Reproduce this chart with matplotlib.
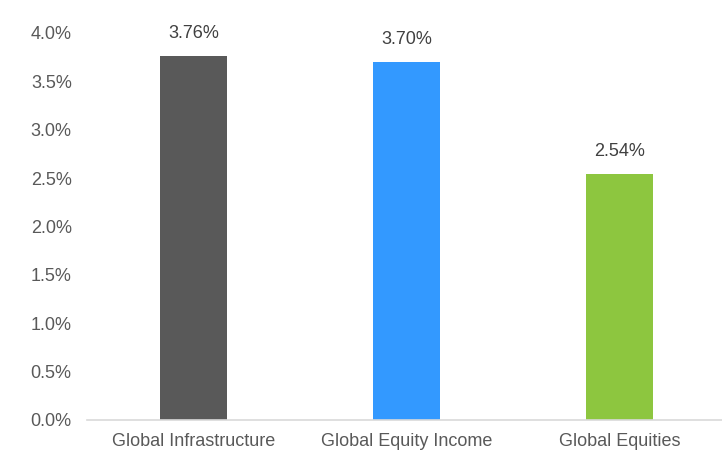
import matplotlib
matplotlib.use("Agg")
import matplotlib.pyplot as plt
from matplotlib.ticker import FuncFormatter

plt.rcParams['font.family'] = ['Liberation Sans', 'DejaVu Sans']

categories = ["Global Infrastructure", "Global Equity Income", "Global Equities"]
values = [3.76, 3.70, 2.54]
colors = ["#595959", "#3399FF", "#8DC63F"]
yticks = [0.0, 0.5, 1.0, 1.5, 2.0, 2.5, 3.0, 3.5, 4.0]

fig = plt.figure(figsize=(7.22, 4.53), dpi=100)
ax = fig.add_axes([87 / 722, 1 - 420 / 453, 639 / 722, 387 / 453])

x = range(len(categories))
bars = ax.bar(x, values, width=0.315, color=colors)

for b, v in zip(bars, values):
    ax.annotate(f"{v:.2f}%", (b.get_x() + b.get_width() / 2, v),
                xytext=(0, 10), textcoords="offset points",
                ha="center", va="bottom", fontsize=13, color="#404040")

ax.set_xlim(-0.5, 2.5)
ax.set_ylim(0, 4.0)
ax.set_yticks(yticks)
ax.yaxis.set_major_formatter(FuncFormatter(lambda v, p: f"{v:.1f}%"))
ax.set_xticks(list(x))
ax.set_xticklabels(categories)

for s in ["top", "right", "left"]:
    ax.spines[s].set_visible(False)
ax.spines["bottom"].set_color("#D9D9D9")
ax.spines["bottom"].set_linewidth(1.2)

ax.tick_params(axis="y", length=0, pad=11, labelsize=13, labelcolor="#595959")
ax.tick_params(axis="x", length=0, pad=9, labelsize=13, labelcolor="#595959")

fig.savefig("out.png", dpi=100, facecolor="white")
